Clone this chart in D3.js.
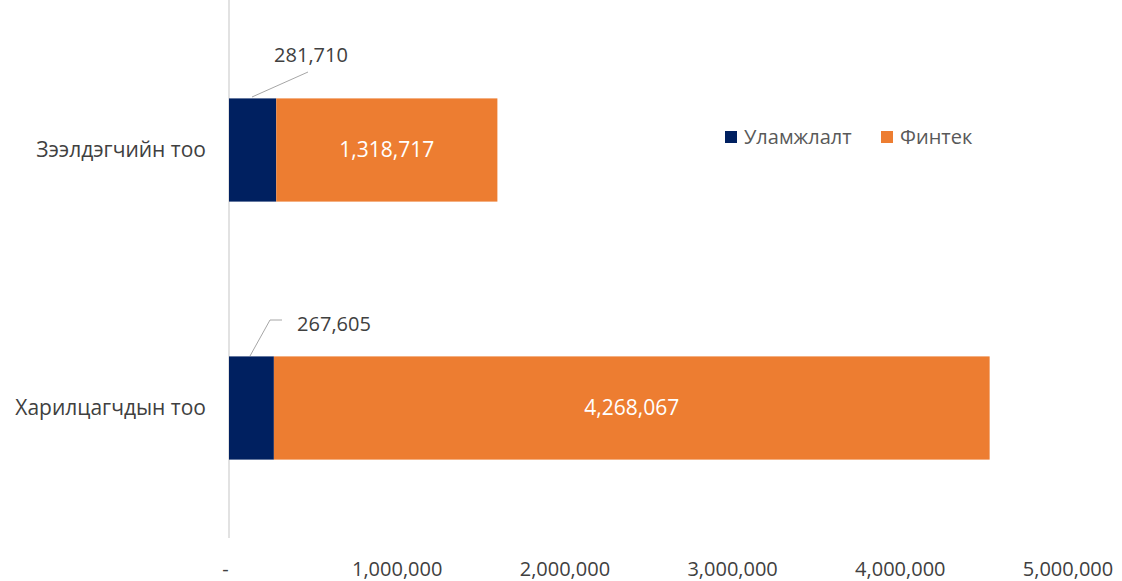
<!DOCTYPE html>
<html>
<head>
<meta charset="utf-8">
<script src="https://cdn.jsdelivr.net/npm/d3@7"></script>
<style>
  body { margin: 0; background: #fff; }
  svg text { font-family: "Open Sans", "Noto Sans", sans-serif; fill: #404040; }
</style>
</head>
<body>
<svg id="chart" width="1122" height="581"></svg>
<script>
// categories et séries
var categories = ['Зээлдэгчийн тоо', 'Харилцагчдын тоо'];
var traditional = [281710, 267605];   // Уламжлалт
var fintech = [1318717, 4268067];     // Финтек
var seriesNames = ['Уламжлалт', 'Финтек'];
var tickValues = [0, 1000000, 2000000, 3000000, 4000000, 5000000];
var tickLabels = ['-', '1,000,000', '2,000,000', '3,000,000', '4,000,000', '5,000,000'];

var colors = ['#002060', '#ED7D31'];
var svg = d3.select('#chart');

// echelles
var x = d3.scaleLinear().domain([0, 5000000]).range([229, 1067.5]);
var y = d3.scaleBand().domain(categories).range([21, 537]).paddingInner(0.6).paddingOuter(0.3);

var fmt = d3.format(',');

// axe vertical
svg.append('line')
  .attr('x1', x(0)).attr('x2', x(0))
  .attr('y1', 0).attr('y2', 538)
  .attr('stroke', '#d9d9d9').attr('stroke-width', 1.5);

// barres empilées
categories.forEach(function(c, i) {
  var y0 = y(c), h = y.bandwidth();
  svg.append('rect')
    .attr('x', x(0)).attr('y', y0)
    .attr('width', x(traditional[i]) - x(0)).attr('height', h)
    .attr('fill', colors[0]);
  svg.append('rect')
    .attr('x', x(traditional[i])).attr('y', y0)
    .attr('width', x(traditional[i] + fintech[i]) - x(traditional[i])).attr('height', h)
    .attr('fill', colors[1]);
  // étiquette intérieure
  svg.append('text')
    .attr('x', (x(traditional[i]) + x(traditional[i] + fintech[i])) / 2)
    .attr('y', y0 + h / 2)
    .attr('dy', '0.35em')
    .attr('text-anchor', 'middle')
    .style('font-size', '21px')
    .style('fill', '#fff')
    .text(fmt(fintech[i]));
  // étiquette de catégorie
  svg.append('text')
    .attr('x', 206)
    .attr('y', y0 + h / 2)
    .attr('dy', '0.35em')
    .attr('text-anchor', 'end')
    .style('font-size', '21px')
    .text(c);
});

// étiquettes déportées avec lignes de rappel
var callouts = [
  { i: 0, pts: [[252, 97], [308, 72]], tx: 311, ty: 55 },
  { i: 1, pts: [[250, 356], [270, 320], [282, 320]], tx: 334, ty: 324 }
];
callouts.forEach(function(d) {
  svg.append('path')
    .attr('d', d3.line()(d.pts))
    .attr('fill', 'none')
    .attr('stroke', '#a6a6a6')
    .attr('stroke-width', 1);
  svg.append('text')
    .attr('x', d.tx).attr('y', d.ty)
    .attr('dy', '0.35em')
    .attr('text-anchor', 'middle')
    .style('font-size', '20px')
    .text(fmt(traditional[d.i]));
});

// axe horizontal (labels seulement)
var axis = svg.append('g')
  .attr('transform', 'translate(0,557)')
  .call(d3.axisBottom(x).tickValues(tickValues).tickSize(0)
    .tickFormat(function(d, i) { return tickLabels[i]; }));
axis.select('.domain').remove();
axis.selectAll('text')
  .style('font-size', '20px')
  .style('font-family', '"Open Sans", "Noto Sans", sans-serif')
  .attr('fill', '#595959')
  .attr('dy', '0.35em')
  .attr('y', 12);
axis.selectAll('.tick').filter(function(d) { return d === 0; }).select('text').attr('x', -4);

// légende
var legendPos = [725, 881];
seriesNames.forEach(function(n, i) {
  var g = svg.append('g').attr('transform', 'translate(' + legendPos[i] + ',131)');
  g.append('rect').attr('width', 12).attr('height', 12).attr('fill', colors[i]);
  g.append('text').attr('x', 19).attr('y', 6).attr('dy', '0.35em')
    .style('font-size', '20px').style('fill', '#595959').text(n);
});
</script>
</body>
</html>
